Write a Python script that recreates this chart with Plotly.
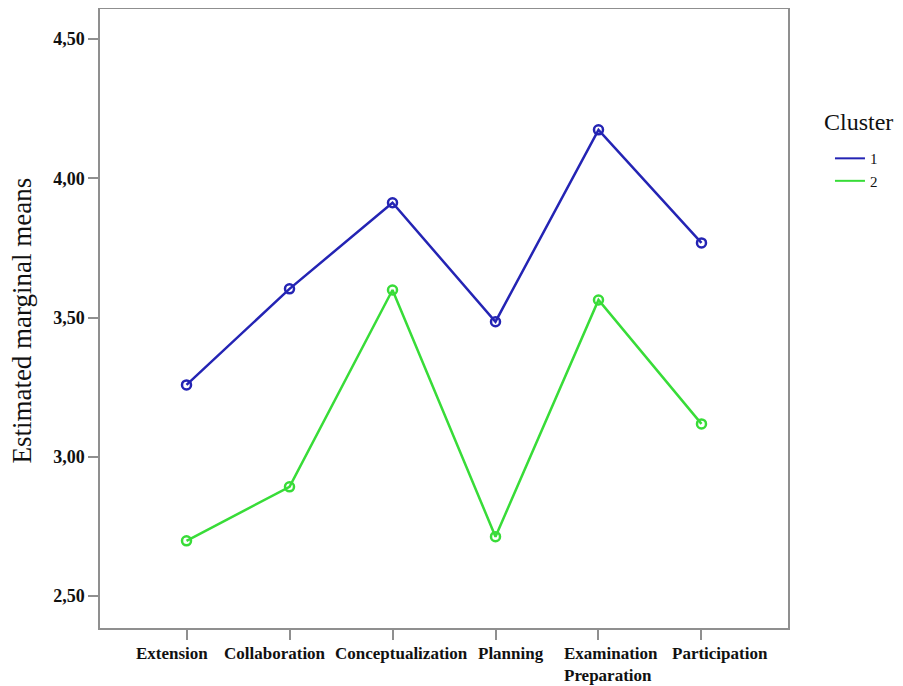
import plotly.graph_objects as go

categories = ["Extension", "Collaboration", "Conceptualization", "Planning",
              "Examination<br>Preparation", "Participation"]
cluster1 = [3.258, 3.603, 3.912, 3.485, 4.174, 3.768]
cluster2 = [2.698, 2.892, 3.599, 2.713, 3.563, 3.118]
series_names = ["1", "2"]
y_ticks = [2.5, 3.0, 3.5, 4.0, 4.5]
y_tick_labels = ["2,50", "3,00", "3,50", "4,00", "4,50"]
y_title = "Estimated marginal means"

# label horizontal offsets (px) to mimic the original's packed labels
label_shift = [-15, -15, 9, 15, 13, 19]

blue = "#2424b4"
green = "#38dc38"
axis_col = "#8f8f8f"
serif = "Liberation Serif, Times New Roman, serif"

xs = list(range(len(categories)))

fig = go.Figure()
for name, vals, col in [(series_names[0], cluster1, blue), (series_names[1], cluster2, green)]:
    fig.add_trace(go.Scatter(
        x=xs, y=vals, name=name, mode="lines+markers", showlegend=False,
        line=dict(color=col, width=2.5),
        marker=dict(symbol="circle-open", size=9, color=col, line=dict(width=2.5, color=col)),
    ))
    # legend entry showing only the line sample
    fig.add_trace(go.Scatter(
        x=[None], y=[None], name=name, mode="lines",
        line=dict(color=col, width=2), showlegend=True,
    ))

for i, cat in enumerate(categories):
    fig.add_annotation(
        x=xs[i], y=0, xref="x", yref="paper", text=cat, showarrow=False,
        xanchor="center", yanchor="top",
        align="left", xshift=label_shift[i], yshift=-14,
        font=dict(family=serif, size=17, color="#111", weight="bold"),
    )

# y-axis title
fig.add_annotation(
    x=-0.113, y=0.497, xref="paper", yref="paper", text=y_title, showarrow=False,
    textangle=-90, xanchor="center", yanchor="middle",
    font=dict(family=serif, size=27, color="#111"),
)

fig.add_annotation(
    x=1.050, y=0.8174, xref="paper", yref="paper", text="Cluster", showarrow=False,
    xanchor="left", yanchor="middle",
    font=dict(family=serif, size=24, color="#111"),
)

fig.update_layout(
    width=895, height=678,
    margin=dict(l=92, r=115, t=1, b=58, autoexpand=False),
    paper_bgcolor="white", plot_bgcolor="white",
    showlegend=True,
    legend=dict(
        font=dict(family=serif, size=15, color="#111"),
        x=1.061, xanchor="left", y=0.785, yanchor="top",
        bgcolor="rgba(0,0,0,0)", tracegroupgap=0,
    ),
    xaxis=dict(
        range=[-0.84, 5.84], tickmode="array", tickvals=xs,
        showticklabels=False, automargin=False,
        ticks="outside", ticklen=10, tickcolor=axis_col, tickwidth=1.5,
        showline=True, linecolor=axis_col, linewidth=1.5, mirror=True,
        showgrid=False, zeroline=False,
    ),
    yaxis=dict(
        range=[2.385, 4.608], tickmode="array", tickvals=y_ticks, ticktext=y_tick_labels,
        ticks="outside", ticklen=10, tickcolor=axis_col, tickwidth=1.5, automargin=False,
        tickfont=dict(family=serif, size=18, color="#111", weight="bold"),
        showline=True, linecolor=axis_col, linewidth=1.5, mirror=True,
        showgrid=False, zeroline=False,
    ),
)

fig.write_html("out.html")
